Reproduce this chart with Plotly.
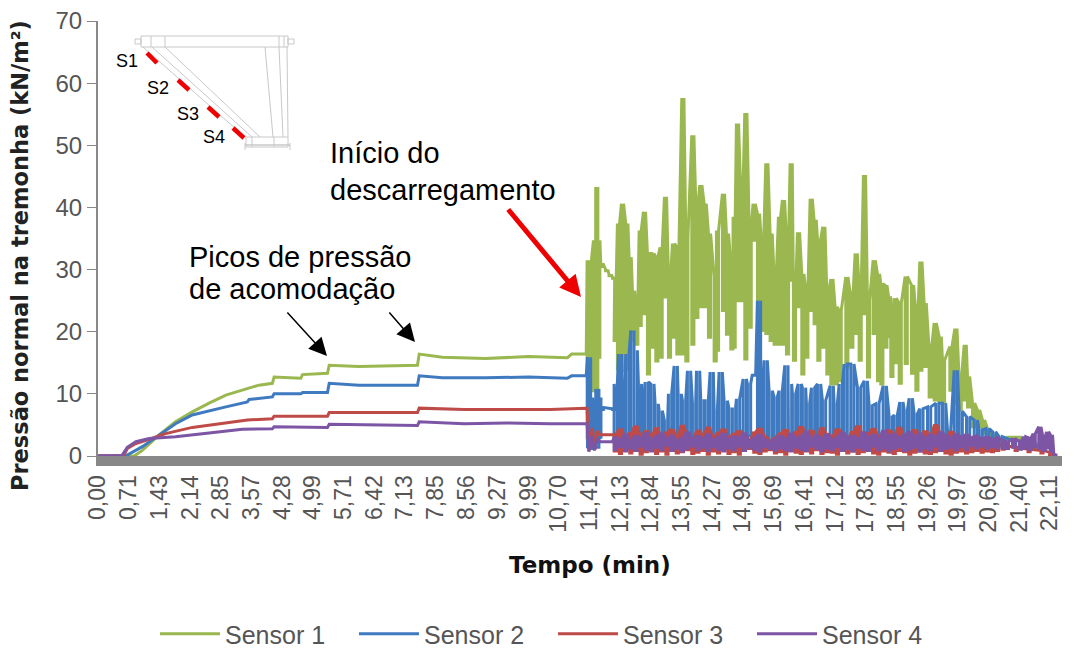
import plotly.graph_objects as go

tick_vals = [0,0.71,1.43,2.14,2.85,3.57,4.28,4.99,5.71,6.42,7.13,7.85,8.56,9.27,9.99,10.70,11.41,12.13,12.84,13.55,14.27,14.98,15.69,16.41,17.12,17.83,18.55,19.26,19.97,20.69,21.40,22.11]
tick_text = [f"{v:.2f}".replace(".", ",") for v in tick_vals]
series_names = ["Sensor 1", "Sensor 2", "Sensor 3", "Sensor 4"]
series_colors = ["#9AB84F", "#3F7AC0", "#BE4B48", "#7D55A5"]

# Filling stage (steady)
s1_fill_t = [0,0.84,1.03,1.42,1.80,2.19,2.58,2.97,3.35,3.74,4.05,4.09,4.71,4.75,5.33,5.37,6.06,7.42,7.46,8.0,9.0,10.0,10.9,11.0,11.34]
s1_fill_v = [0,0,0.9,3.4,5.5,7.1,8.5,9.8,10.6,11.4,11.7,12.7,12.5,13.1,13.3,14.6,14.4,14.6,16.4,15.9,15.7,16.0,15.8,16.4,16.4]
s2_fill_t = [0,0.64,1.03,1.42,1.80,2.19,2.58,2.97,3.47,3.51,4.05,4.09,4.71,4.75,5.33,5.37,6.06,7.42,7.46,8.0,9.0,10.0,10.9,11.0,11.34]
s2_fill_v = [0,0,1.5,3.4,5.2,6.6,7.3,7.9,8.7,9.1,9.5,10.0,10.0,10.2,10.2,11.7,11.4,11.4,12.9,12.6,12.6,12.7,12.5,12.9,12.9]
s3_fill_t = [0,0.60,0.68,0.88,1.19,1.57,2.19,2.97,3.47,4.05,4.09,5.33,5.37,7.42,7.46,8.5,9.5,10.5,11.34]
s3_fill_v = [0,0.1,1.2,2.0,2.7,3.6,4.6,5.4,5.8,6.0,6.4,6.4,7.0,7.0,7.7,7.5,7.5,7.5,7.7]
s4_fill_t = [0,0.56,0.68,0.88,1.19,1.80,2.58,3.35,4.05,4.09,5.33,5.37,7.42,7.46,8.5,9.5,10.5,11.34]
s4_fill_v = [0,0.1,1.4,2.3,2.8,3.1,3.7,4.3,4.4,4.7,4.6,5.1,4.9,5.5,5.2,5.3,5.2,5.2]

# Discharge stage: sensor 1 (time, upper reading, lower reading)
s1_t = [11.36,11.41,11.507,11.56,11.607,11.677,11.79,11.87,11.95,11.987,12.064,12.157,12.258,12.335,12.413,12.49,12.568,12.668,12.761,12.862,12.955,13.055,13.156,13.249,13.342,13.443,13.559,13.652,13.791,13.884,13.977,14.078,14.178,14.31,14.364,14.503,14.596,14.697,14.75,14.828,14.929,15.022,15.123,15.215,15.316,15.409,15.51,15.61,15.703,15.804,15.897,15.99,16.075,16.152,16.245,16.346,16.439,16.54,16.632,16.718,16.834,16.927,17.02,17.12,17.213,17.368,17.484,17.585,17.678,17.778,17.871,18.003,18.104,18.181,18.274,18.36,18.414,18.491,18.608,18.747,18.894,18.995,19.088,19.188,19.304,19.421,19.537,19.614,19.785,19.901,20.001,20.117,20.195,20.311,20.427,20.543,20.66,20.776,20.93,21.085,21.43]
s1_high = [31.5,31.5,34.7,43.3,34.7,31,30,29.2,28.8,28.8,37.4,40.6,37.4,32,26.6,24.5,36.3,39.3,32.6,32.6,32,33.6,41.7,28.8,34.2,33.6,57.6,35.2,51.6,40.6,43.6,40.6,35.8,28.8,36.3,42.2,35.8,31,38.5,53.5,42.2,55.2,36.9,40.6,39,34.2,47.1,35.8,28.8,38.5,41.2,34.7,47.1,26.1,36,29.3,26.6,41.4,38,34.2,36.9,26.6,28.5,24,23.4,28.8,25.6,32.6,27.2,45.2,25,31.5,29.3,27.7,27.5,25.7,23,25.4,24.6,28.9,27.5,23,31.3,24.6,17,21.4,19.2,15.4,17.6,20.5,12.2,17.9,12.8,8.5,7.4,5.8,4.4,3.5,2.5,3,3]
s1_low = [3.0,11.6,10.5,10.5,15.9,30.5,29.8,29,28.6,18.6,14,13.7,14,18.6,20,18,21,22.9,13.2,17.5,15.3,15.9,25.6,15.9,19.1,16.4,16.4,15.3,18,22.3,24,24,19.1,15.3,17,23.4,19.6,17.2,17.5,25,25,15.6,20.7,34.7,22.9,20.2,19.7,18.6,18,18,18,16.4,28.3,15.4,24,13.2,15.9,23.4,21.3,15.4,17.5,13.2,11.6,11.6,12.1,14.3,17.5,19.7,15.4,22.9,12.7,19.7,12.1,11.6,17.5,19.2,12.8,15,11.7,14.9,13.3,10.6,13.8,14.4,9.5,9,8.5,8.5,10.6,8.5,7.5,9,7.9,4.7,4.7,3.7,3.1,2.5,2,2,2]

# Discharge stage: sensor 2
s2_t = [11.368,11.41,11.507,11.56,11.607,11.662,11.95,11.987,12.088,12.142,12.258,12.374,12.452,12.552,12.606,12.707,12.839,12.939,13.032,13.156,13.249,13.381,13.474,13.574,13.69,13.807,13.9,14.0,14.1,14.217,14.31,14.426,14.542,14.658,14.735,14.828,14.983,15.084,15.2,15.316,15.37,15.471,15.587,15.703,15.819,15.951,16.036,16.129,16.261,16.361,16.454,16.57,16.71,16.826,17.004,17.097,17.213,17.329,17.484,17.639,17.794,17.91,18.065,18.235,18.375,18.491,18.623,18.724,18.84,18.956,19.088,19.266,19.459,19.614,19.73,19.885,20.001,20.172,20.35,20.466,20.621,20.776,20.93,21.24,21.78]
s2_high = [15.9,9.4,7.8,10.8,9.4,7.8,7.6,11.6,16.4,9.4,16.4,20.2,17,11.6,8.9,11.9,11.6,8.4,7.3,5.7,10,14.5,10,8.9,13.7,8.4,13.7,8.9,8.9,13.5,7.3,13.5,8.9,7.6,7.8,9.2,12.4,11.6,13.2,25,11.6,15.4,10.5,9.5,10.5,14.6,11.6,10,11.6,11,8.4,11,11.6,8.9,11.3,8.4,11.6,14.8,14.8,11,12.1,8.1,8.4,11.3,6.3,6.6,8.7,7.4,9.3,6.8,7.6,7.9,8.5,8.5,4.2,13.8,7.2,6.3,5.8,4.2,4.4,3.9,3.1,2.5,2]
s2_low = [1.5,1.2,2.2,1.4,3,7.5,7.5,2.8,2.6,3.2,2.5,2.3,2.9,2.6,3,2.4,2.7,2.3,3,2.6,2.4,3,2.7,2.4,3.1,2.6,2.4,3,2.7,2.3,3.2,2.6,2.9,2.5,2.8,2.4,3,3.2,13,3.5,3.3,2.8,2.5,3.1,2.6,2.4,3,2.7,2.3,2.9,2.5,2.8,2.4,3.1,2.6,2.3,3,2.7,2.5,2.4,2.8,2.6,3,2.4,2.7,2.5,2.2,2.9,2.3,2.6,2.1,2.4,2.7,2.2,2.5,2.3,2.6,2.2,2.1,2,1.9,1.6,1.6,1.5,1.4]

# Discharge stage: sensors 3 and 4, readings every 0.12 min from 11.99 min
s34_start = 11.99
s34_step = 0.12
s3_high = [3.6,4.4,2.9,3.8,4.9,3.2,4.1,3.3,4.6,2.8,3.9,4.3,3.1,5.0,3.5,2.7,4.2,3.4,4.7,3.0,3.8,4.4,2.9,3.6,4.1,3.3,2.6,3.9,4.5,3.2,2.4,3.0,3.7,4.3,3.1,3.9,4.8,3.4,4.2,3.0,4.6,3.6,3.2,4.4,3.8,2.9,4.0,4.9,3.3,3.7,4.5,3.1,3.9,4.2,3.5,4.7,3.0,3.6,4.3,3.2,4.1,3.4,5.1,3.7,3.0,4.0,3.3,2.9,3.4,3.0,2.5,2.7,2.1,2.3,1.9]
s3_low = [0.8,0.4,1.0,0.5,0.9,0.3,0.7,1.1,0.4,0.8,0.3,0.9,0.5,0.7,1.0,0.4,0.6,0.9,0.3,0.8,0.5,1.0,0.4,0.7,0.3,0.9,1.2,0.6,0.4,0.8,1.0,0.5,0.7,0.3,0.9,0.6,0.4,0.8,0.5,1.0,0.4,0.7,0.6,0.3,0.9,0.5,0.8,0.4,0.7,1.0,0.5,0.3,0.8,0.6,0.4,0.9,0.7,0.3,0.6,0.8,0.5,0.4,0.7,0.9,0.5,0.3,0.6,0.8,0.5,0.7,0.9,0.6,0.8,0.7,0.9]
s4_high = [3.1,2.6,3.6,2.4,3.3,2.9,3.8,2.5,3.2,3.7,2.7,3.4,2.4,3.0,3.9,2.6,3.3,2.8,3.6,2.5,3.1,3.7,2.6,3.2,2.9,3.8,2.4,3.0,3.5,2.7,2.2,2.8,3.3,2.6,3.7,2.9,3.2,4.0,2.7,3.4,2.8,3.6,2.6,3.1,3.8,2.9,3.3,2.7,3.9,3.0,3.5,2.8,4.2,3.2,3.6,2.9,3.4,4.0,3.1,3.7,2.8,3.5,3.0,3.9,3.3,2.9,3.6,3.1,3.4,3.0,3.2,2.8,3.1,2.7,2.9]
s4_low = [1.0,1.5,0.8,1.3,0.9,1.6,1.1,0.8,1.4,1.0,1.7,0.9,1.3,0.8,1.2,1.6,1.0,1.4,0.9,1.5,1.1,0.8,1.3,1.0,1.6,0.9,1.4,1.1,0.8,1.5,1.2,0.9,1.3,1.0,0.8,1.4,1.1,0.9,1.6,1.2,0.8,1.3,1.0,1.5,0.9,1.2,0.8,1.4,1.1,0.9,1.6,1.0,1.3,0.8,1.2,1.5,0.9,1.1,1.4,0.8,1.3,1.0,1.6,0.9,1.2,1.4,1.0,1.5,1.1,1.7,1.3,1.6,1.2,1.5,1.3]
s3_tail_t = [21.0,21.3,21.6,21.9,22.1,22.2]
s3_tail_high = [1.7,1.4,1.1,0.9,0.6,0.1]
s3_tail_low = [1.1,0.9,0.7,0.5,0.2,0.0]
s4_tail_t = [21.0,21.1,21.25,21.4,21.5,21.62,21.72,21.85,21.95,22.03,22.12,22.2]
s4_tail_high = [2.6,2.3,2.8,2.4,3.1,2.9,3.6,4.7,3.0,3.9,3.4,0.4]
s4_tail_low = [1.3,1.2,1.4,1.1,1.3,1.0,1.5,1.2,0.9,1.3,0.8,0.2]
s3_gap_t = [11.36,11.40,11.48,11.54,11.60,11.66,11.95]
s3_gap_v = [7.7,0.8,4.5,1.0,4.0,3.4,3.4]
s4_gap_t = [11.36,11.40,11.47,11.53,11.60,11.66,11.95]
s4_gap_v = [5.2,0.7,3.2,0.9,2.9,2.3,2.3]

W, H = 1076, 650
ML, MR, MT, MB = 98, 14, 21, 194
PW, PH = W - ML - MR, H - MT - MB
def px(x): return (x - ML) / PW
def py(y): return (H - MB - y) / PH

def blocks(ts, highs, lows, d):
    xs, ys = [], []
    for t, h, l in zip(ts, highs, lows):
        xs += [t, t, t + d, t + d]
        ys += [h, l, l, h]
    return xs, ys

fig = go.Figure()
x1, y1 = blocks(s1_t, s1_high, s1_low, 0.05)
x2, y2 = blocks(s2_t, s2_high, s2_low, 0.075)
s3_t = [s34_start + i * s34_step for i in range(len(s3_high))]
x3, y3 = blocks(s3_t + s3_tail_t, s3_high + s3_tail_high, s3_low + s3_tail_low, 0.05)
x4, y4 = blocks(s3_t + s4_tail_t, s4_high + s4_tail_high, s4_low + s4_tail_low, 0.05)
all_x = [s1_fill_t + x1, s2_fill_t + x2, s3_fill_t + s3_gap_t + x3, s4_fill_t + s4_gap_t + x4]
all_y = [s1_fill_v + y1, s2_fill_v + y2, s3_fill_v + s3_gap_v + y3, s4_fill_v + s4_gap_v + y4]
for name, color, xs, ys in zip(series_names, series_colors, all_x, all_y):
    fig.add_trace(go.Scatter(x=xs, y=ys, mode="lines", name=name, line=dict(color=color, width=3)))

GR = "#C8C8C8"
shapes = []
def seg(x0, y0, x1_, y1_, color=GR, width=1):
    shapes.append(dict(type="line", xref="paper", yref="paper", x0=px(x0), y0=py(y0), x1=px(x1_), y1=py(y1_), line=dict(color=color, width=width)))
def box(x0, y0, x1_, y1_):
    shapes.append(dict(type="rect", xref="paper", yref="paper", x0=px(x0), y0=py(y0), x1=px(x1_), y1=py(y1_), line=dict(color=GR, width=1)))
box(141, 36, 288, 47); box(135, 39, 141, 44); box(288, 39, 294, 44)
for vx in (151, 165, 279, 284):
    seg(vx, 36, vx, 47)
seg(143, 47, 245, 137); seg(152, 47, 252, 137); seg(165, 47, 260, 137)
seg(265, 47, 273, 137); seg(279, 47, 283, 137); seg(287, 47, 288, 137)
box(246, 137, 288, 147); seg(245, 145, 290, 145, width=1.5); seg(245, 143, 245, 150); seg(290, 143, 290, 150)
seg(252, 137, 252, 147); seg(274, 137, 274, 147)
for a, b, c, d in [(147, 53, 157, 63), (178, 80, 189, 90), (208, 107, 219, 117), (233, 128, 244, 138)]:
    seg(a, b, c, d, color="#EE0000", width=4.5)
fig.update_layout(shapes=shapes)

anns = []
def label(text, x, y, size, anchor="left", family="Liberation Sans", color="#000000", angle=0, bold=False):
    anns.append(dict(text=text, xref="paper", yref="paper", x=px(x), y=py(y), xanchor=anchor, yanchor="middle", showarrow=False, textangle=angle, font=dict(family=family, size=size, color=color, weight="bold" if bold else "normal")))
def arrow(x0, y0, x1_, y1_, color, width, size):
    anns.append(dict(text="", xref="paper", yref="paper", x=px(x1_), y=py(y1_), ax=x0 - x1_, ay=y0 - y1_, showarrow=True, arrowhead=2, arrowwidth=width, arrowsize=size, arrowcolor=color))
label("S1", 127, 61, 18, "center"); label("S2", 158, 88, 18, "center"); label("S3", 188, 114, 18, "center"); label("S4", 214, 137, 18, "center")
label("Início do", 328, 153, 29); label("descarregamento", 328, 190, 29)
label("Picos de pressão", 187, 257, 29); label("de acomodação", 187, 289, 29)
label("Tempo (min)", 590, 565, 23, "center", "DejaVu Sans", "#111111", 0, True)
label("Pressão normal na tremonha (kN/m²)", 20, 256, 22.5, "center", "DejaVu Sans", "#222222", -90, True)
arrow(507, 208, 581, 297, "#EE0000", 5, 0.85)
arrow(286, 311, 327, 356, "#000000", 1.5, 2.4)
arrow(388, 311, 415, 342, "#000000", 1.5, 2.4)
fig.update_layout(annotations=anns)

fig.update_layout(
    width=W, height=H, margin=dict(l=ML, r=MR, t=MT, b=MB, autoexpand=False),
    paper_bgcolor="white", plot_bgcolor="white", showlegend=True,
    font=dict(family="Liberation Sans", color="#555555"),
    legend=dict(orientation="h", x=px(155), y=py(634), xanchor="left", yanchor="middle", itemwidth=60, entrywidth=124, entrywidthmode="pixels", font=dict(size=25, color="#555555"), bgcolor="rgba(0,0,0,0)", traceorder="normal"),
    xaxis=dict(range=[0, 22.39], tickmode="array", tickvals=tick_vals, ticktext=tick_text, tickangle=-90, tickfont=dict(size=23, color="#555555"), showgrid=False, zeroline=False, showline=True, linecolor="#888888", linewidth=10, ticks=""),
    yaxis=dict(range=[0, 70], tickmode="array", tickvals=list(range(0, 80, 10)), tickfont=dict(size=24, color="#555555"), showgrid=False, zeroline=False, showline=True, linecolor="#888888", linewidth=2, ticks="outside", ticklen=9, tickcolor="#888888"),
)
fig.write_html("out.html", config={"displayModeBar": False}, post_script="document.body.style.margin='0';document.documentElement.style.overflow='hidden';")
